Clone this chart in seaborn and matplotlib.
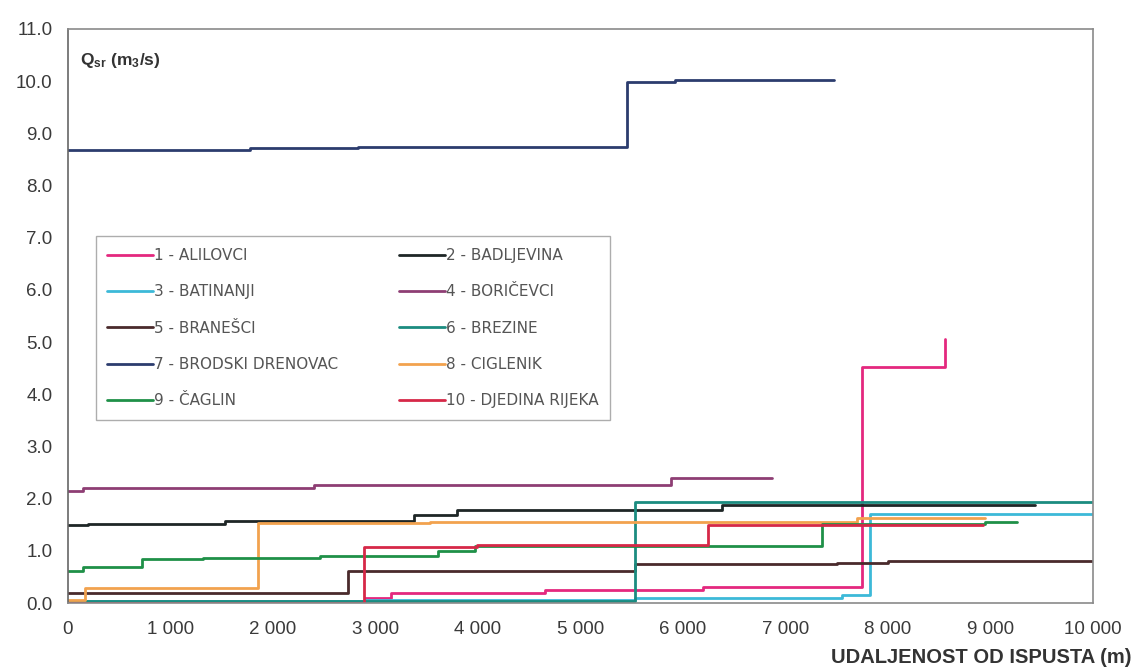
import matplotlib
matplotlib.use("Agg")
import matplotlib.pyplot as plt
from matplotlib.ticker import FuncFormatter, MultipleLocator
import seaborn as sns
import pandas as pd

# Station names (legend order)
stations = [
    "1 - ALILOVCI", "2 - BADLJEVINA", "3 - BATINANJI", "4 - BORIČEVCI",
    "5 - BRANEŠCI", "6 - BREZINE", "7 - BRODSKI DRENOVAC", "8 - CIGLENIK",
    "9 - ČAGLIN", "10 - DJEDINA RIJEKA",
]

# Distance from outlet (m) where the mean flow changes, and flow after that point (m3/s)
alilovci_x = [0, 2900, 3150, 4650, 6200, 7750, 8560]
alilovci_q = [0.02, 0.1, 0.2, 0.25, 0.3, 4.52, 5.05]

badljevina_x = [0, 200, 1530, 3380, 3800, 6380, 9430]
badljevina_q = [1.49, 1.52, 1.58, 1.69, 1.79, 1.87, 1.87]

batinanji_x = [0, 2900, 5530, 7550, 7825, 10000]
batinanji_q = [0.03, 0.06, 0.1, 0.15, 1.7, 1.7]

boricevci_x = [0, 150, 2400, 5880, 6870]
boricevci_q = [2.15, 2.2, 2.26, 2.4, 2.4]

branesci_x = [0, 2730, 5530, 7500, 8000, 10000]
branesci_q = [0.2, 0.62, 0.74, 0.77, 0.8, 0.8]

brezine_x = [0, 5530, 10000]
brezine_q = [0.03, 1.93, 1.93]

brodski_x = [0, 1780, 2830, 5450, 5920, 7470]
brodski_q = [8.68, 8.71, 8.74, 9.98, 10.02, 10.02]

ciglenik_x = [0, 165, 1855, 3530, 7700, 8950]
ciglenik_q = [0.05, 0.29, 1.53, 1.56, 1.62, 1.62]

caglin_x = [0, 150, 720, 1320, 2460, 3610, 3970, 7355, 8950, 9260]
caglin_q = [0.62, 0.69, 0.84, 0.86, 0.9, 0.99, 1.1, 1.52, 1.56, 1.56]

djedina_x = [0, 2890, 3990, 6245, 8930]
djedina_q = [0.0, 1.07, 1.12, 1.5, 1.5]

series_x = [alilovci_x, badljevina_x, batinanji_x, boricevci_x, branesci_x,
            brezine_x, brodski_x, ciglenik_x, caglin_x, djedina_x]
series_q = [alilovci_q, badljevina_q, batinanji_q, boricevci_q, branesci_q,
            brezine_q, brodski_q, ciglenik_q, caglin_q, djedina_q]

colors = ["#E4287E", "#1E2626", "#3CB9D8", "#8E3E74", "#4A2A2C",
          "#1B8C80", "#2C3C6E", "#F2A24E", "#1F9048", "#D62848"]

rows = []
for name, xs, qs in zip(stations, series_x, series_q):
    for x, q in zip(xs, qs):
        rows.append({"station": name, "distance": x, "flow": q})
df = pd.DataFrame(rows)

sns.set_theme(style="white")
plt.rcParams["font.family"] = ["Liberation Sans", "DejaVu Sans"]
plt.rcParams["mathtext.default"] = "regular"

fig = plt.figure(figsize=(11.33, 6.68), dpi=100)
ax = fig.add_axes([0.060, 0.0973, 0.9047, 0.8593])

sns.lineplot(data=df, x="distance", y="flow", hue="station",
             hue_order=stations, palette=colors, drawstyle="steps-post",
             linewidth=2.0, estimator=None, sort=False, legend=False, ax=ax)

ax.set_xlim(0, 10000)
ax.set_ylim(0, 11)
ax.xaxis.set_major_locator(MultipleLocator(1000))
ax.yaxis.set_major_locator(MultipleLocator(1.0))
ax.xaxis.set_major_formatter(FuncFormatter(lambda v, p: f"{int(v):,}".replace(",", " ")))
ax.yaxis.set_major_formatter(FuncFormatter(lambda v, p: f"{v:.1f}"))
ax.tick_params(axis="both", direction="out", length=5, width=1, color="#777777",
               labelsize=13.5, labelcolor="#3a3a3a")
ax.tick_params(axis="x", pad=8)
ax.tick_params(axis="y", pad=6)
ax.set_xlabel("")
ax.set_ylabel("")

for side, sp in ax.spines.items():
    sp.set_visible(True)
    sp.set_color("#8a8a8a")
    sp.set_linewidth(1.2)
ax.spines["left"].set_color("#666666")

ax.text(0.012, 0.945, r"Q$_{sr}$ (m$_{3}$/s)", transform=ax.transAxes,
        fontsize=12.5, fontweight="bold", color="#333333", ha="left", va="center")
fig.text(0.999, 0.002, "UDALJENOST OD ISPUSTA (m)", fontsize=14.5,
         fontweight="bold", color="#333333", ha="right", va="bottom")

# Legend filled row by row: odd stations left, even stations right
line_handles = ax.get_lines()[:len(stations)]
order = [0, 2, 4, 6, 8, 1, 3, 5, 7, 9]
leg = ax.legend([line_handles[i] for i in order], [stations[i] for i in order],
                ncol=2, loc="lower left",
                bbox_to_anchor=(0.027, 0.319, 0.502, 0.33), mode="expand",
                prop={"family": "DejaVu Sans", "size": 11},
                frameon=True, fancybox=False, borderpad=0.75,
                labelspacing=1.4, handlelength=3.0, handletextpad=0.1,
                columnspacing=1.0, borderaxespad=0)
leg.get_frame().set_edgecolor("#999999")
leg.get_frame().set_linewidth(1.0)
for t in leg.get_texts():
    t.set_color("#555555")

fig.savefig("out.png", dpi=100, facecolor="white")
